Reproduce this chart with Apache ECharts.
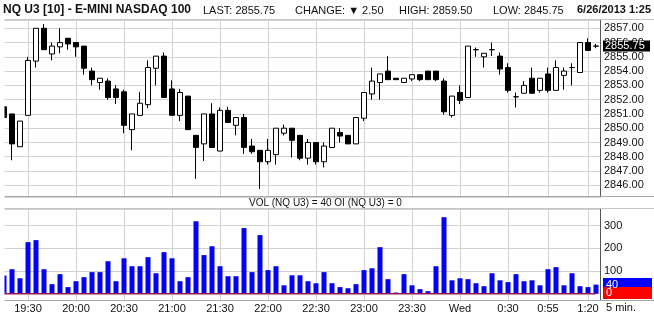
<!DOCTYPE html>
<html><head><meta charset="utf-8">
<script src="https://cdn.jsdelivr.net/npm/echarts@6/dist/echarts.min.js"></script>
<style>html,body{margin:0;padding:0;background:#fff}#c{width:654px;height:316px}</style>
</head><body><div id="c"></div>
<script>
// ---- data ----
const categories = [
 '19:15','19:20','19:25','19:30','19:35','19:40','19:45','19:50','19:55',
 '20:00','20:05','20:10','20:15','20:20','20:25','20:30','20:35','20:40','20:45','20:50','20:55',
 '21:00','21:05','21:10','21:15','21:20','21:25','21:30','21:35','21:40','21:45','21:50','21:55',
 '22:00','22:05','22:10','22:15','22:20','22:25','22:30','22:35','22:40','22:45','22:50','22:55',
 '23:00','23:05','23:10','23:15','23:20','23:25','23:30','23:35','23:40','23:45','23:50','23:55',
 '0:00','0:05','0:10','0:15','0:20','0:25','0:30','0:35','0:40','0:45','0:50','0:55',
 '1:00','1:05','1:10','1:15','1:20','1:25'];
const opens  = [2851.5,2851.0,2848.7,2850.9,2854.7,2857.0,2855.2,2855.7,2856.3,2856.0,
 2855.75,2854.0,2853.2,2853.3,2852.75,2852.55,2849.9,2850.9,2851.65,2854.2,
 2855.05,2852.75,2850.9,2852.25,2849.5,2848.9,2851.0,2848.4,2851.25,2850.2,
 2850.75,2848.75,2848.45,2847.65,2848.15,2849.65,2850.0,2849.5,2847.9,2849.0,
 2847.65,2848.65,2849.7,2849.5,2848.9,2850.7,2852.4,2853.2,2854.0,2853.5,
 2853.2,2853.45,2853.75,2854.0,2854.0,2853.3,2850.9,2852.5,2852.15,2855.5,
 2855.0,2855.5,2855.05,2854.25,2852.2,2852.45,2853.5,2852.65,2853.8,2852.65,
 2853.7,2854.25,2853.9,2856.0,2855.75];
const closes = [2850.75,2848.9,2850.5,2854.75,2857.0,2855.5,2855.75,2856.0,2855.9,2855.7,
 2854.2,2853.4,2853.5,2852.15,2852.15,2850.2,2851.0,2851.75,2854.25,2855.05,
 2852.15,2850.9,2852.5,2849.9,2848.65,2851.0,2848.65,2851.25,2850.4,2850.75,
 2848.65,2848.35,2847.65,2848.45,2850.0,2850.0,2849.15,2847.9,2849.0,2847.65,
 2848.75,2850.0,2849.45,2848.9,2850.75,2852.5,2853.3,2853.8,2853.4,2853.4,
 2853.5,2853.75,2853.4,2853.4,2853.4,2851.15,2852.25,2851.95,2855.75,2855.5,
 2855.25,2855.5,2854.15,2852.65,2852.2,2853.0,2852.45,2853.5,2852.65,2854.25,
 2854.0,2854.25,2856.0,2855.45,2855.75];
const lows   = [2850.75,2847.75,2848.7,2850.9,2854.25,2855.5,2854.75,2855.25,2855.5,2855.0,
 2853.75,2853.0,2852.7,2852.0,2851.7,2849.65,2848.45,2850.9,2851.4,2853.0,
 2852.15,2850.9,2850.5,2849.9,2846.45,2847.7,2848.65,2848.4,2850.4,2849.5,
 2848.2,2848.2,2845.75,2847.45,2847.45,2849.5,2847.95,2847.75,2847.45,2847.45,
 2847.25,2848.65,2849.0,2848.9,2848.9,2850.5,2852.0,2852.0,2853.4,2853.4,
 2853.2,2853.3,2853.3,2853.4,2853.3,2850.95,2850.75,2851.7,2852.15,2855.0,
 2854.25,2855.05,2853.75,2852.5,2851.45,2852.45,2852.45,2852.5,2852.5,2852.65,
 2852.7,2853.0,2853.9,2855.45,2855.6];
const highs  = [2851.5,2851.0,2850.5,2855.0,2857.0,2857.3,2856.0,2857.0,2856.3,2856.0,
 2855.75,2854.25,2853.5,2853.5,2853.0,2852.7,2851.0,2852.55,2854.75,2855.05,
 2855.3,2853.35,2852.75,2852.25,2849.5,2851.0,2851.75,2851.45,2851.5,2850.75,
 2851.0,2849.25,2848.45,2849.25,2850.0,2850.25,2850.0,2849.5,2849.25,2849.0,
 2849.0,2850.0,2850.0,2849.5,2850.75,2852.5,2854.25,2853.8,2855.05,2853.5,
 2853.5,2853.75,2853.75,2854.0,2854.0,2853.5,2852.25,2853.0,2855.75,2855.65,
 2855.25,2856.0,2855.3,2854.55,2852.5,2853.3,2854.25,2853.5,2854.25,2854.75,
 2854.25,2854.55,2856.0,2856.3,2855.9];
const volumes = [80,108,68,227,236,108,42,86,29,55,
 73,95,95,143,55,156,121,121,161,90,
 183,156,55,73,319,170,209,121,77,77,
 289,95,258,104,121,37,81,81,55,46,
 95,46,29,24,42,104,112,205,64,5,
 86,37,20,11,121,337,59,68,64,46,
 33,90,59,51,86,55,59,37,108,117,
 37,90,33,29,40];
const openInterest = [0,0,0,0,0,0,0,0,0,0,0,0,0,0,0,0,0,0,0,0,0,0,0,0,0,
 0,0,0,0,0,0,0,0,0,0,0,0,0,0,0,0,0,0,0,0,0,0,0,0,0,
 0,0,0,0,0,0,0,0,0,0,0,0,0,0,0,0,0,0,0,0,0,0,0,0,0];
const tickCategories = ['19:30','20:00','20:30','21:00','21:30','22:00','22:30','23:00','23:30','0:00','0:30','0:55','1:20'];
const tickLabels     = ['19:30','20:00','20:30','21:00','21:30','22:00','22:30','23:00','23:30','Wed','0:30','0:55','1:20'];
const lastPrice = 2855.75, lastVolume = 40, lastOI = 0;
const headerTexts = ['NQ U3 [10] - E-MINI NASDAQ 100','LAST: 2855.75','CHANGE: \u25BC 2.50','HIGH: 2859.50','LOW: 2845.75','6/26/2013 1:25'];
const volLabel = 'VOL (NQ U3) = 40 OI (NQ U3) = 0';

// ---- chart ----
const FF = '"Liberation Sans", Arial, sans-serif';
const GRID = '#d2d2d2';
const chart = echarts.init(document.getElementById('c'), null, {renderer: 'canvas'});
const candleData = categories.map((c, i) => [opens[i], closes[i], lows[i], highs[i]]);
const vLines = {
  silent: true, symbol: ['none', 'none'], z: 1, animation: false,
  label: {show: false}, emphasis: {disabled: true},
  lineStyle: {color: GRID, width: 1, type: 'solid'},
  data: tickCategories.map(c => ({xAxis: c}))
};
chart.setOption({
  animation: false,
  grid: [
    {left: 0, top: 20, width: 600, height: 177},
    {left: 0, top: 209, width: 600, height: 91}
  ],
  xAxis: [
    {type: 'category', gridIndex: 0, data: categories, boundaryGap: true,
     axisLine: {show: false}, axisTick: {show: false}, axisLabel: {show: false}, splitLine: {show: false}},
    {type: 'category', gridIndex: 1, data: categories, boundaryGap: true,
     axisLine: {show: false}, axisTick: {show: false}, splitLine: {show: false},
     axisLabel: {show: true, interval: (i, v) => tickCategories.indexOf(v) >= 0,
       formatter: v => { const k = tickCategories.indexOf(v); return k >= 0 ? tickLabels[k] : ''; },
       color: '#111', fontSize: 11, fontFamily: FF, margin: 3}}
  ],
  yAxis: [
    {type: 'value', gridIndex: 0, position: 'right', min: 2845.18, max: 2857.58,
     splitNumber: 12, minInterval: 1, maxInterval: 1,
     axisLine: {show: true, lineStyle: {color: '#555'}}, axisTick: {show: false},
     splitLine: {show: true, lineStyle: {color: GRID}},
     axisLabel: {showMinLabel: false, showMaxLabel: false, margin: 4, color: '#111', fontSize: 11, fontFamily: FF,
       formatter: v => Math.abs(v - Math.round(v)) < 1e-6 ? v.toFixed(2) : ''}},
    {type: 'value', gridIndex: 1, position: 'right', min: -27.75, max: 373,
     splitNumber: 4, minInterval: 100, maxInterval: 100,
     axisLine: {show: true, lineStyle: {color: '#555'}}, axisTick: {show: false},
     splitLine: {show: true, lineStyle: {color: GRID}},
     axisLabel: {showMinLabel: false, showMaxLabel: false, margin: 4, color: '#111', fontSize: 11, fontFamily: FF,
       formatter: v => (v > 0 && Math.abs(v % 100) < 1e-6) ? String(Math.round(v)) : ''}}
  ],
  series: [
    {type: 'candlestick', xAxisIndex: 0, yAxisIndex: 0, data: candleData, barWidth: 5, z: 3,
     itemStyle: {color: '#ffffff', color0: '#000000', borderColor: '#000000', borderColor0: '#000000',
       borderColorDoji: '#000000', borderWidth: 1},
     markLine: vLines},
    {type: 'bar', xAxisIndex: 1, yAxisIndex: 1, data: volumes, barWidth: 5, z: 3,
     itemStyle: {color: '#0000ff'}, markLine: vLines},
    {type: 'line', xAxisIndex: 1, yAxisIndex: 1, data: openInterest, z: 4, symbol: 'none',
     lineStyle: {color: '#9e1458', width: 1.5}}
  ]
});

const yLast = chart.convertToPixel({yAxisIndex: 0}, lastPrice);
const yVol = chart.convertToPixel({yAxisIndex: 1}, lastVolume);
const yOi = chart.convertToPixel({yAxisIndex: 1}, lastOI);
function txt(x, y, s, font, align, fill) {
  return {type: 'text', z: 120, silent: true,
    style: {x: x, y: y, text: s, font: font, fill: fill || '#111', textAlign: align || 'left', textVerticalAlign: 'middle'}};
}
function hline(y, color) {
  return {type: 'line', z: 105, silent: true, shape: {x1: 4.5, y1: y, x2: 654, y2: y}, style: {stroke: color, lineWidth: 1}};
}
function box(x, y, w, h, fill, z) {
  return {type: 'rect', z: z, silent: true, shape: {x: x, y: y, width: w, height: h}, style: {fill: fill}};
}
chart.setOption({graphic: {elements: [
  box(0, 19, 4.5, 283, '#ffffff', 100),
  hline(19.5, '#c4c4c4'),
  hline(196.5, '#a8a8a8'),
  hline(208.5, '#c4c4c4'),
  hline(300.5, '#a8a8a8'),
  txt(3, 10, headerTexts[0], 'bold 12px ' + FF),
  txt(203, 10.5, headerTexts[1], '11px ' + FF),
  txt(295, 10.5, headerTexts[2], '11px ' + FF),
  txt(399, 10.5, headerTexts[3], '11px ' + FF),
  txt(493, 10.5, headerTexts[4], '11px ' + FF),
  txt(651, 10, headerTexts[5], 'bold 11px ' + FF, 'right'),
  txt(249, 203, volLabel, '10px ' + FF),
  txt(606, 308, '5 min.', '11px ' + FF),
  box(603, Math.round(yLast) - 5.5, 47, 11, '#000000', 110),
  txt(605, yLast, lastPrice.toFixed(2), '11px ' + FF, 'left', '#ffffff'),
  box(603, Math.round(yVol) - 7, 49, 14, '#0000ff', 110),
  txt(606, yVol, String(lastVolume), '11px ' + FF, 'left', '#ffffff'),
  box(603, Math.round(yOi) - 7, 49, 12, '#ff0000', 112),
  txt(606, yOi - 1, String(lastOI), '11px ' + FF, 'left', '#ffffff')
]}});
</script></body></html>
